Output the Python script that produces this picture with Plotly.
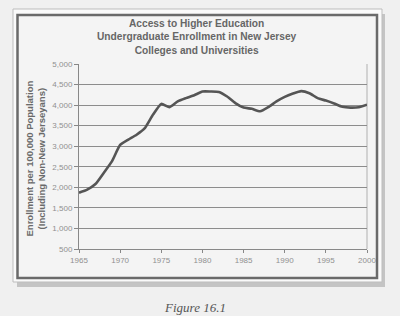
import plotly.graph_objects as go

years = list(range(1965, 2001))
enrollment = [1870, 1945, 2080, 2350, 2630, 3030, 3160, 3280, 3440, 3770,
              4030, 3950, 4090, 4170, 4240, 4330, 4330, 4320, 4210, 4050,
              3940, 3910, 3850, 3950, 4090, 4200, 4280, 4340, 4290, 4170,
              4110, 4040, 3960, 3940, 3950, 4010]
y_ticks = [500, 1000, 1500, 2000, 2500, 3000, 3500, 4000, 4500, 5000]
x_ticks = [1965, 1970, 1975, 1980, 1985, 1990, 1995, 2000]

W, H = 400, 316
ML, MR, MT, MB = 79, 33, 64, 67
PW, PH = W - ML - MR, H - MT - MB
def px(x): return (x - ML) / PW
def py(y): return (H - MB - y) / PH

fig = go.Figure()
fig.add_trace(go.Scatter(x=years, y=enrollment, mode="lines",
                         line=dict(color="#555555", width=2.6, shape="spline", smoothing=0.5),
                         hoverinfo="skip"))

shapes = [
    # shadow
    dict(type="rect", xref="paper", yref="paper", x0=px(17), x1=px(385), y0=py(287), y1=py(14),
         fillcolor="#c4c4c4", line=dict(width=0), layer="below"),
    # outer light frame
    dict(type="rect", xref="paper", yref="paper", x0=px(13), x1=px(382), y0=py(282), y1=py(9),
         fillcolor="#fafafa", line=dict(color="#bdbdbd", width=1), layer="below"),
    # inner dark border
    dict(type="rect", xref="paper", yref="paper", x0=px(17.5), x1=px(377), y0=py(278), y1=py(15),
         fillcolor="#f4f4f4", line=dict(color="#6a6a6a", width=2.5), layer="below"),
    # right border line of plot area
    dict(type="line", xref="paper", yref="paper", x0=1, x1=1, y0=0, y1=1,
         line=dict(color="#b0b0b0", width=1), layer="below"),
]

fig.update_layout(
    width=W, height=H,
    margin=dict(l=ML, r=MR, t=MT, b=MB),
    paper_bgcolor="#f0f0f0",
    plot_bgcolor="rgba(0,0,0,0)",
    showlegend=False,
    shapes=shapes,
    font=dict(family="Liberation Sans, Arial, sans-serif", color="#8a8a8a"),
    xaxis=dict(range=[1965, 2000], tickvals=x_ticks, ticktext=[str(v) for v in x_ticks],
               showgrid=False, zeroline=False, showline=True, linecolor="#888888", linewidth=1,
               ticks="outside", ticklen=3, tickcolor="#888888", tickfont=dict(size=8, color="#909090")),
    yaxis=dict(range=[500, 5000], tickvals=y_ticks, ticktext=[f"{v:,}" for v in y_ticks],
               showgrid=True, gridcolor="#8c8c8c", gridwidth=1, zeroline=False,
               showline=True, linecolor="#888888", linewidth=1,
               ticks="outside", ticklen=4, tickcolor="#888888", tickfont=dict(size=8, color="#909090")),
    annotations=[
        dict(text="<b>Access to Higher Education<br>Undergraduate Enrollment in New Jersey<br>Colleges and Universities</b>",
             xref="paper", yref="paper", x=px(197), y=py(37), xanchor="center", yanchor="middle",
             showarrow=False, font=dict(family="Liberation Sans, Arial, sans-serif", size=10.2, color="#666666")),
        dict(text="<b>Enrollment per 100,000 Population<br>(Including Non-New Jerseyans)</b>",
             xref="paper", yref="paper", x=px(34.5), y=py(159), xanchor="center", yanchor="middle",
             textangle=-90, showarrow=False,
             font=dict(family="Liberation Sans, Arial, sans-serif", size=9.5, color="#6a6a6a")),
        dict(text="<i>Figure 16.1</i>",
             xref="paper", yref="paper", x=px(195), y=py(307), xanchor="center", yanchor="middle",
             showarrow=False, font=dict(family="Liberation Serif, Times New Roman, serif", size=13, color="#555555")),
    ],
)

fig.write_html("out.html")
